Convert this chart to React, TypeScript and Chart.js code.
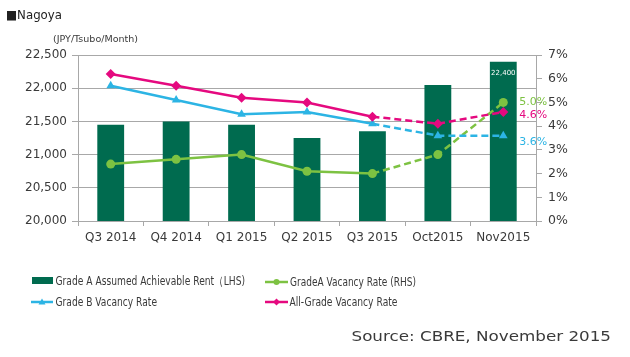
import React, { useEffect, useRef } from "react";
import { Chart, registerables } from "chart.js";

Chart.register(...registerables);

const categories = ["Q3 2014", "Q4 2014", "Q1 2015", "Q2 2015", "Q3 2015", "Oct2015", "Nov2015"];
const rentLHS = [21450, 21500, 21450, 21250, 21350, 22050, 22400];
const gradeAVacancy = [2.4, 2.6, 2.8, 2.1, 2.0, 2.8, 5.0];
const gradeBVacancy = [5.7, 5.1, 4.5, 4.6, 4.1, 3.6, 3.6];
const allGradeVacancy = [6.2, 5.7, 5.2, 5.0, 4.4, 4.1, 4.6];
const leftAxis = { min: 20000, max: 22500, step: 500 };
const rightAxis = { min: 0, max: 7, step: 1 };
const dashedFromIndex = 4;

const seriesNames = [
  "Grade A Assumed Achievable Rent（LHS)",
  "GradeA Vacancy Rate (RHS)",
  "Grade B Vacancy Rate",
  "All-Grade Vacancy Rate",
];
const titleText = "■Nagoya";
const unitText = "(JPY/Tsubo/Month)";
const sourceText = "Source: CBRE, November 2015";

const C_BAR = "#006b4f";
const C_GREEN = "#7dc242";
const C_CYAN = "#2cb4e4";
const C_PINK = "#e5097f";
const C_GRID = "#a8a8a8";
const C_TEXT = "#3a3a3a";
const FONT = "'DejaVu Sans'";

function fitText(ctx: CanvasRenderingContext2D, text: string, x: number, y: number, width: number, size: number, color: string) {
  ctx.save();
  ctx.font = `${size}px ${FONT}`;
  ctx.fillStyle = color;
  ctx.textBaseline = "alphabetic";
  ctx.textAlign = "left";
  const w = ctx.measureText(text).width;
  ctx.translate(x, y);
  ctx.scale(width / w, 1);
  ctx.fillText(text, 0, 0);
  ctx.restore();
}

function marker(ctx: CanvasRenderingContext2D, kind: string, x: number, y: number, r: number, color: string) {
  ctx.save();
  ctx.fillStyle = color;
  ctx.beginPath();
  if (kind === "circle") {
    ctx.arc(x, y, r, 0, Math.PI * 2);
  } else if (kind === "triangle") {
    ctx.moveTo(x, y - r);
    ctx.lineTo(x + r, y + r * 0.7);
    ctx.lineTo(x - r, y + r * 0.7);
    ctx.closePath();
  } else {
    ctx.moveTo(x, y - r);
    ctx.lineTo(x + r, y);
    ctx.lineTo(x, y + r);
    ctx.lineTo(x - r, y);
    ctx.closePath();
  }
  ctx.fill();
  ctx.restore();
}

const decorPlugin = {
  id: "decor",
  afterDatasetsDraw(chart: any) {
    const ctx: CanvasRenderingContext2D = chart.ctx;
    // value labels
    const barMeta = chart.getDatasetMeta(0);
    const lastBar = barMeta.data[barMeta.data.length - 1];
    ctx.save();
    ctx.font = `7px ${FONT}`;
    ctx.fillStyle = "#ffffff";
    ctx.textAlign = "center";
    ctx.textBaseline = "alphabetic";
    ctx.fillText(rentLHS[rentLHS.length - 1].toLocaleString("en-US"), lastBar.x, lastBar.y + 13);
    ctx.restore();

    const labelDefs = [
      { ds: 1, color: C_GREEN, dy: 0, vals: gradeAVacancy },
      { ds: 3, color: C_PINK, dy: 3, vals: allGradeVacancy },
      { ds: 2, color: C_CYAN, dy: 7, vals: gradeBVacancy },
    ];
    labelDefs.forEach((d) => {
      const meta = chart.getDatasetMeta(d.ds);
      const p = meta.data[meta.data.length - 1];
      ctx.save();
      ctx.font = `11px ${FONT}`;
      ctx.fillStyle = d.color;
      ctx.textAlign = "left";
      ctx.textBaseline = "middle";
      ctx.fillText(d.vals[d.vals.length - 1].toFixed(1) + "%", p.x + 16, p.y + d.dy);
      ctx.restore();
    });
  },
  afterDraw(chart: any) {
    const ctx: CanvasRenderingContext2D = chart.ctx;
    fitText(ctx, titleText, 6, 18.5, 56, 12.5, "#222");
    fitText(ctx, unitText, 53, 42, 85, 9.5, C_TEXT);

    // legend
    ctx.save();
    ctx.fillStyle = C_BAR;
    ctx.fillRect(32, 277, 21, 7);
    ctx.restore();
    fitText(ctx, seriesNames[0], 55.5, 284.5, 189.5, 11.5, C_TEXT);

    const line = (x0: number, x1: number, y: number, color: string, kind: string) => {
      ctx.save();
      ctx.strokeStyle = color;
      ctx.lineWidth = 2.5;
      ctx.beginPath();
      ctx.moveTo(x0, y);
      ctx.lineTo(x1, y);
      ctx.stroke();
      ctx.restore();
      marker(ctx, kind, (x0 + x1) / 2, y, kind === "circle" ? 3 : 3.5, color);
    };
    line(31, 53, 302, C_CYAN, "triangle");
    fitText(ctx, seriesNames[2], 55.5, 306, 101.5, 11.5, C_TEXT);
    line(265, 288, 282, C_GREEN, "circle");
    fitText(ctx, seriesNames[1], 290, 285.5, 126, 11.5, C_TEXT);
    line(265, 288, 302, C_PINK, "diamond");
    fitText(ctx, seriesNames[3], 289.5, 306, 108, 11.5, C_TEXT);

    fitText(ctx, sourceText, 351.5, 340.5, 259.5, 14.5, C_TEXT);
  },
};

export default function App() {
  const ref = useRef<HTMLCanvasElement | null>(null);
  useEffect(() => {
    document.body.style.margin = "0";
    const canvas = ref.current!;
    const dash = (ctx: any) => (ctx.p0DataIndex >= dashedFromIndex ? [7, 4] : undefined);
    const lineDs = (label: string, data: number[], color: string, style: string, radius: number, order: number) => ({
      type: "line" as const,
      label,
      data,
      yAxisID: "y1",
      borderColor: color,
      backgroundColor: color,
      borderWidth: 2.5,
      pointStyle: style,
      pointRadius: radius,
      pointBorderWidth: 0,
      pointBackgroundColor: color,
      tension: 0,
      order,
      segment: { borderDash: dash },
    });
    const chart = new Chart(canvas, {
      data: {
        labels: categories,
        datasets: [
          {
            type: "bar",
            label: seriesNames[0],
            data: rentLHS,
            yAxisID: "y",
            backgroundColor: C_BAR,
            barPercentage: 0.41,
            categoryPercentage: 1,
            order: 10,
          },
          lineDs(seriesNames[1], gradeAVacancy, C_GREEN, "circle", 4.5, 3),
          lineDs(seriesNames[2], gradeBVacancy, C_CYAN, "triangle", 5, 2),
          lineDs(seriesNames[3], allGradeVacancy, C_PINK, "rectRot", 5, 1),
        ] as any,
      },
      options: {
        responsive: false,
        animation: false,
        layout: { padding: { top: 55, left: 0, right: 0, bottom: 0 } },
        plugins: { legend: { display: false }, tooltip: { enabled: false } },
        scales: {
          x: {
            type: "category",
            offset: true,
            grid: { offset: true, drawOnChartArea: false, tickLength: 5, color: C_GRID },
            border: { color: C_GRID, width: 1 },
            ticks: { color: C_TEXT, font: { family: "DejaVu Sans", size: 12 }, padding: 5, maxRotation: 0 },
            afterFit: (s: any) => { s.height = 136; },
          },
          y: {
            position: "left",
            min: leftAxis.min,
            max: leftAxis.max,
            grid: { color: C_GRID, tickLength: 6, lineWidth: 1 },
            border: { color: C_GRID, width: 1 },
            ticks: {
              stepSize: leftAxis.step,
              color: C_TEXT,
              font: { family: "DejaVu Sans", size: 12 },
              padding: 5,
              callback: (v: any) => Number(v).toLocaleString("en-US"),
            },
            afterFit: (s: any) => { s.width = 78; },
          },
          y1: {
            position: "right",
            min: rightAxis.min,
            max: rightAxis.max,
            grid: { drawOnChartArea: false, tickLength: 6, color: C_GRID },
            border: { color: C_GRID, width: 1 },
            ticks: {
              stepSize: rightAxis.step,
              color: C_TEXT,
              font: { family: "DejaVu Sans", size: 12.5 },
              padding: 6,
              callback: (v: any) => v + "%",
            },
            afterFit: (s: any) => { s.width = 94; },
          },
        },
      } as any,
      plugins: [decorPlugin],
    });
    return () => chart.destroy();
  }, []);
  return (
    <div style={{ width: 630, height: 357, background: "#fff" }}>
      <canvas ref={ref} width={630} height={357} style={{ display: "block" }} />
    </div>
  );
}
